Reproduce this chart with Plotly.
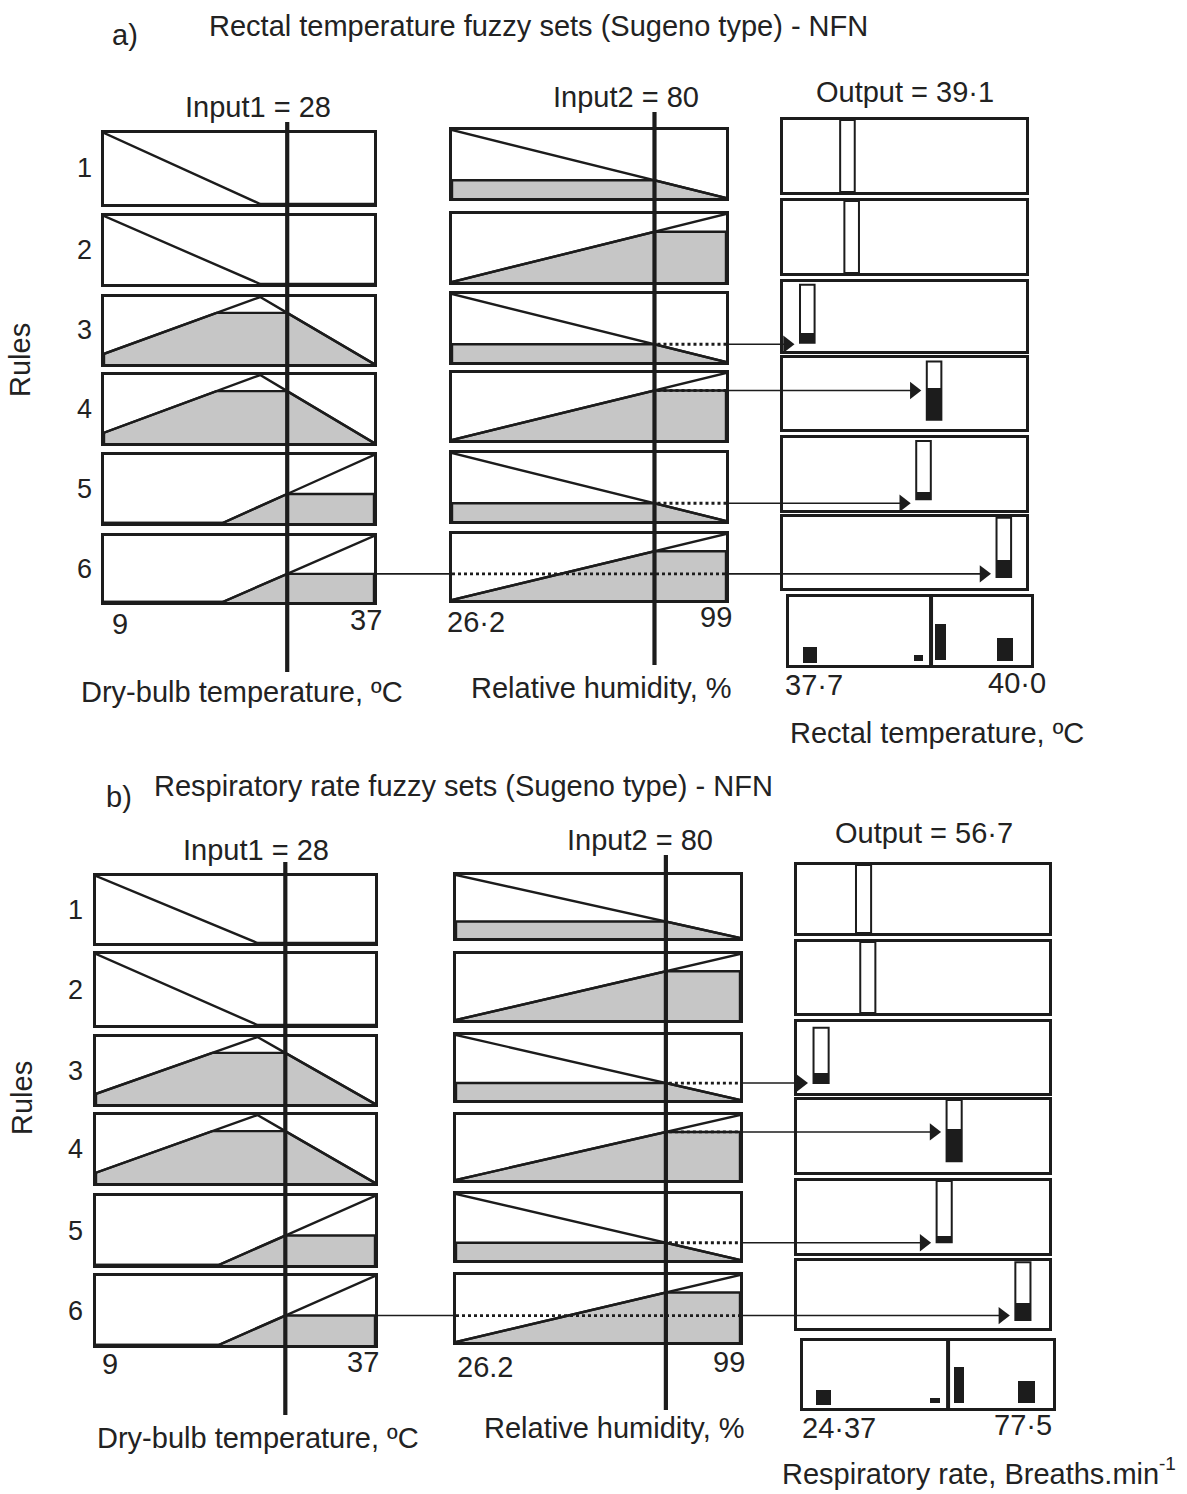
import numpy as np
import plotly.graph_objects as go

W, H = 1187, 1494

# ---------------- data ----------------
rule_labels = ["1", "2", "3", "4", "5", "6"]

input1_value = 28
input2_value = 80
input1_range = [9, 37]
input2_range = [26.2, 99]

# membership functions: breakpoints (x) and membership (mu)
in1_low_x, in1_low_mu = [9, 25.2], [1, 0]
in1_mid_x, in1_mid_mu = [6.1, 25.2, 37], [0, 1, 0]
in1_high_x, in1_high_mu = [21.3, 37], [0, 1]
in2_low_x, in2_low_mu = [26.2, 99], [1, 0]
in2_high_x, in2_high_mu = [26.2, 99], [0, 1]

rule_in1_set = ["low", "low", "mid", "mid", "high", "high"]
rule_in2_set = ["low", "high", "low", "high", "low", "high"]

# panel a) rectal temperature
a_in1_ticks = ["9", "37"]
a_in2_ticks = ["26·2", "99"]
a_out_range = [37.7, 40.0]
a_out_ticks = ["37·7", "40·0"]
a_rule_out = [38.31, 38.35, 37.93, 39.13, 39.03, 39.79]
a_rule_base = [0, 0, 0.12, 0.13, 0.15, 0.155]
a_rule_top = [1, 1, 0.96, 0.95, 0.96, 0.99]
a_rule_fill = [0, 0, 0.26, 0.58, 0.25, 0.39]
a_agg_out = [37.90, 38.93, 39.14, 39.75]
a_agg_base = [0.03, 0.06, 0.07, 0.06]
a_agg_top = [0.26, 0.15, 0.60, 0.40]
a_output = 39.05
a_output_label = "39·1"

# panel b) respiratory rate
b_in1_ticks = ["9", "37"]
b_in2_ticks = ["26.2", "99"]
b_out_range = [24.37, 77.5]
b_out_ticks = ["24·37", "77·5"]
b_rule_out = [38.4, 39.3, 29.45, 57.5, 55.4, 72.0]
b_rule_base = [0, 0, 0.14, 0.15, 0.15, 0.12]
b_rule_top = [1, 1, 0.92, 1.0, 1.0, 0.98]
b_rule_fill = [0, 0, 0.28, 0.60, 0.24, 0.37]
b_agg_out = [28.7, 52.4, 57.5, 71.9]
b_agg_base = [0.04, 0.07, 0.07, 0.07]
b_agg_top = [0.27, 0.15, 0.61, 0.40]
b_output = 55.2
b_output_label = "56·7"

MF = {
    "in1": {"low": (in1_low_x, in1_low_mu), "mid": (in1_mid_x, in1_mid_mu),
            "high": (in1_high_x, in1_high_mu)},
    "in2": {"low": (in2_low_x, in2_low_mu), "high": (in2_high_x, in2_high_mu)},
}

# ---------------- style / geometry (pixels) ----------------
INK = "#1c1c1c"
GRAY = "#c6c6c6"
TXT = "#222222"
FONT = "Liberation Sans, Arial, Helvetica, sans-serif"
FS = 29
LW = 2.4                            # membership line width
RULE_W = 0.06                       # output singleton width, fraction of range
AGG_W = [0.06, 0.04, 0.042, 0.066]  # aggregated bar widths, fraction of range

GEO_A = dict(
    col1_x=(104, 374),
    col1_rows=[(133, 204), (216, 284), (297, 364), (375, 443), (455, 523), (536, 602)],
    col2_x=(452, 726),
    col2_rows=[(130, 198), (214, 282), (294, 362), (373, 440), (453, 521), (534, 600)],
    col3_x=(783, 1026),
    col3_rows=[(120, 192), (201, 273), (282, 351), (358, 429), (438, 510), (517, 588)],
    agg_x=(789, 1031), agg_y=(597, 665),
    in1_line=(122, 672), in2_line=(112, 665),
    tag=(110, 35), title=(207, 26),
    in1_lbl=(258, 107), in2_lbl=(626, 97), out_lbl=(905, 92),
    rules_lbl=(20, 360),
    ticks=[(110, 624, "left"), (384, 620, "right"), (445, 622, "left"), (734, 617, "right"),
           (783, 685, "left"), (1048, 683, "right")],
    xt1=(242, 692), xt2=(602, 688), xt3=(1086, 733), xt3_sup=None,
)
GEO_B = dict(
    col1_x=(96, 375),
    col1_rows=[(876, 943), (954, 1025), (1037, 1104), (1115, 1183), (1196, 1265), (1276, 1345)],
    col2_x=(456, 740),
    col2_rows=[(875, 938), (954, 1020), (1035, 1100), (1115, 1180), (1194, 1260), (1275, 1342)],
    col3_x=(797, 1049),
    col3_rows=[(865, 933), (942, 1013), (1022, 1093), (1100, 1172), (1181, 1253), (1261, 1328)],
    agg_x=(803, 1053), agg_y=(1341, 1408),
    in1_line=(862, 1415), in2_line=(855, 1410),
    tag=(104, 797), title=(152, 786),
    in1_lbl=(256, 850), in2_lbl=(640, 840), out_lbl=(924, 833),
    rules_lbl=(22, 1098),
    ticks=[(100, 1364, "left"), (381, 1362, "right"), (455, 1367, "left"), (747, 1362, "right"),
           (800, 1428, "left"), (1054, 1425, "right")],
    xt1=(258, 1438), xt2=(615, 1428), xt3=(1161, 1474), xt3_sup=(1157, 1463),
)

PANELS = [
    dict(tag="a)", title="Rectal temperature fuzzy sets (Sugeno type) - NFN",
         out_title="Rectal temperature, ºC", out_sup="", in1_ticks=a_in1_ticks,
         in2_ticks=a_in2_ticks,
         out_range=a_out_range, out_ticks=a_out_ticks, rule_out=a_rule_out,
         rule_base=a_rule_base, rule_top=a_rule_top, rule_fill=a_rule_fill,
         agg_out=a_agg_out, agg_base=a_agg_base, agg_top=a_agg_top,
         output=a_output, output_label=a_output_label, geo=GEO_A),
    dict(tag="b)", title="Respiratory rate fuzzy sets (Sugeno type) - NFN",
         out_title="Respiratory rate, Breaths.min", out_sup="-1", in1_ticks=b_in1_ticks,
         in2_ticks=b_in2_ticks,
         out_range=b_out_range, out_ticks=b_out_ticks, rule_out=b_rule_out,
         rule_base=b_rule_base, rule_top=b_rule_top, rule_fill=b_rule_fill,
         agg_out=b_agg_out, agg_base=b_agg_base, agg_top=b_agg_top,
         output=b_output, output_label=b_output_label, geo=GEO_B),
]

AX = dict(showline=True, mirror=True, linecolor=INK, linewidth=2.6, showgrid=False,
          zeroline=False, showticklabels=False, ticks="", fixedrange=True)

axes = {}
cells = []
traces = []
shapes = []
annotations = []


def new_cell(xpx, ypx, rng):
    n = len(cells) + 1
    sx = "" if n == 1 else str(n)
    axes["xaxis" + sx] = dict(domain=[xpx[0] / W, xpx[1] / W], range=list(rng),
                              anchor="y" + sx, **AX)
    axes["yaxis" + sx] = dict(domain=[1 - ypx[1] / H, 1 - ypx[0] / H], range=[0, 1],
                              anchor="x" + sx, **AX)
    cell = dict(xa="x" + sx, ya="y" + sx, xpx=xpx, ypx=ypx, rng=list(rng))
    cells.append(cell)
    return cell


def dx(cell, v):
    lo, hi = cell["rng"]
    return cell["xpx"][0] + (v - lo) / (hi - lo) * (cell["xpx"][1] - cell["xpx"][0])


def dy(cell, m):
    return cell["ypx"][1] - m * (cell["ypx"][1] - cell["ypx"][0])


def inv_x(cell, p):
    lo, hi = cell["rng"]
    return lo + (p - cell["xpx"][0]) / (cell["xpx"][1] - cell["xpx"][0]) * (hi - lo)


def inv_y(cell, p):
    return (cell["ypx"][1] - p) / (cell["ypx"][1] - cell["ypx"][0])


def pline(x0, y0, x1, y1, width, dash="solid"):
    shapes.append(dict(type="line", xref="paper", yref="paper",
                       x0=x0 / W, x1=x1 / W, y0=1 - y0 / H, y1=1 - y1 / H,
                       line=dict(color=INK, width=width, dash=dash), layer="above"))


def text(s, x, y, anchor="center", size=FS, angle=0):
    annotations.append(dict(text=s, x=x / W, y=1 - y / H, xref="paper", yref="paper",
                            xanchor=anchor, yanchor="middle", showarrow=False,
                            textangle=angle, font=dict(family=FONT, size=size, color=TXT)))


def input_cell(cell, xs, mus, level):
    lo, hi = cell["rng"]
    pts = {lo, hi} | {x for x in xs if lo <= x <= hi}
    for k in range(len(xs) - 1):
        m0, m1 = mus[k], mus[k + 1]
        if (m0 - level) * (m1 - level) < 0:
            pts.add(xs[k] + (level - m0) / (m1 - m0) * (xs[k + 1] - xs[k]))
    px = np.array(sorted(p for p in pts if lo <= p <= hi))
    mu = np.interp(px, xs, mus)
    if level > 1e-6:
        top = np.minimum(mu, level)
        traces.append(go.Scatter(x=[lo, *px, hi], y=[0, *top, 0], xaxis=cell["xa"],
                                 yaxis=cell["ya"], mode="lines", fill="toself",
                                 fillcolor=GRAY, line=dict(color=INK, width=LW),
                                 hoverinfo="skip", showlegend=False))
    traces.append(go.Scatter(x=px, y=mu, xaxis=cell["xa"], yaxis=cell["ya"], mode="lines",
                             line=dict(color=INK, width=LW), hoverinfo="skip",
                             showlegend=False))


def bar(cell, v, base, top, width, color, outline=0):
    traces.append(go.Bar(x=[v], y=[top - base], base=[base], width=[width],
                         xaxis=cell["xa"], yaxis=cell["ya"],
                         marker=dict(color=color, line=dict(color=INK, width=outline)),
                         hoverinfo="skip", showlegend=False))


for P in PANELS:
    g = P["geo"]
    c1 = [new_cell(g["col1_x"], r, input1_range) for r in g["col1_rows"]]
    c2 = [new_cell(g["col2_x"], r, input2_range) for r in g["col2_rows"]]
    c3 = [new_cell(g["col3_x"], r, P["out_range"]) for r in g["col3_rows"]]
    agg = new_cell(g["agg_x"], g["agg_y"], P["out_range"])
    lo, hi = P["out_range"]
    wr = RULE_W * (hi - lo)

    for i in range(len(rule_labels)):
        xs1, mu1 = MF["in1"][rule_in1_set[i]]
        xs2, mu2 = MF["in2"][rule_in2_set[i]]
        l1 = float(np.interp(input1_value, xs1, mu1))
        l2 = float(np.interp(input2_value, xs2, mu2))
        input_cell(c1[i], xs1, mu1, l1)
        input_cell(c2[i], xs2, mu2, l2)

        v = P["rule_out"][i]
        bar(c3[i], v, P["rule_base"][i], P["rule_top"][i], wr, "white", outline=2)
        if P["rule_fill"][i] > P["rule_base"][i]:
            bar(c3[i], v, P["rule_base"][i], P["rule_fill"][i], wr, INK)

        # implication arrows (from the input with the smaller membership)
        if min(l1, l2) > 1e-6:
            if l1 < l2:
                y = dy(c1[i], l1)
                pline(c1[i]["xpx"][1], y, c2[i]["xpx"][0], y, 1.6)
                pline(c2[i]["xpx"][0], y, c2[i]["xpx"][1], y, 2.8, "dot")
            else:
                y = dy(c2[i], l2)
                pline(dx(c2[i], input2_value) + 3, y, c2[i]["xpx"][1], y, 2.8, "dot")
            tail = c2[i]["xpx"][1]
            tip = dx(c3[i], v - wr / 2) - 6
            pline(tail, y, tip - 8, y, 1.6)
            traces.append(go.Scatter(x=[inv_x(c3[i], tip - 7)], y=[inv_y(c3[i], y)],
                                     xaxis=c3[i]["xa"], yaxis=c3[i]["ya"], mode="markers",
                                     marker=dict(symbol="triangle-right", size=15, color=INK,
                                                 line=dict(width=0)),
                                     cliponaxis=False, hoverinfo="skip", showlegend=False))

        text(rule_labels[i], g["col1_x"][0] - 20,
             (g["col1_rows"][i][0] + g["col1_rows"][i][1]) / 2, size=27)

    for j in range(len(P["agg_out"])):
        bar(agg, P["agg_out"][j], P["agg_base"][j], P["agg_top"][j], AGG_W[j] * (hi - lo), INK)
    traces.append(go.Scatter(x=[P["output"], P["output"]], y=[0, 1], xaxis=agg["xa"],
                             yaxis=agg["ya"], mode="lines", line=dict(color=INK, width=4),
                             hoverinfo="skip", showlegend=False))

    # input value lines
    x1 = dx(c1[0], input1_value)
    pline(x1, g["in1_line"][0], x1, g["in1_line"][1], 4.2)
    x2 = dx(c2[0], input2_value)
    pline(x2, g["in2_line"][0], x2, g["in2_line"][1], 4.2)

    # texts
    text(P["tag"], g["tag"][0], g["tag"][1], anchor="left")
    text(P["title"], g["title"][0], g["title"][1], anchor="left")
    text(f"Input1 = {input1_value}", *g["in1_lbl"])
    text(f"Input2 = {input2_value}", *g["in2_lbl"])
    text(f"Output = {P['output_label']}", *g["out_lbl"])
    text("Rules", *g["rules_lbl"], angle=-90)
    tick_texts = P["in1_ticks"] + P["in2_ticks"] + P["out_ticks"]
    for s, (tx, ty, an) in zip(tick_texts, g["ticks"]):
        text(s, tx, ty, anchor=an)
    text("Dry-bulb temperature, ºC", *g["xt1"])
    text("Relative humidity, %", *g["xt2"])
    text(P["out_title"], *g["xt3"], anchor="right")
    if P["out_sup"]:
        text(P["out_sup"], *g["xt3_sup"], anchor="left", size=19)

fig = go.Figure(data=traces)
fig.update_layout(
    width=W, height=H, margin=dict(l=0, r=0, t=0, b=0),
    paper_bgcolor="white", plot_bgcolor="white", showlegend=False,
    barmode="overlay", bargap=0,
    shapes=shapes, annotations=annotations, **axes,
)
fig.write_html("out.html", config={"displayModeBar": False, "staticPlot": True},
               post_script="document.body.style.margin='0';document.body.style.overflow='hidden';")
